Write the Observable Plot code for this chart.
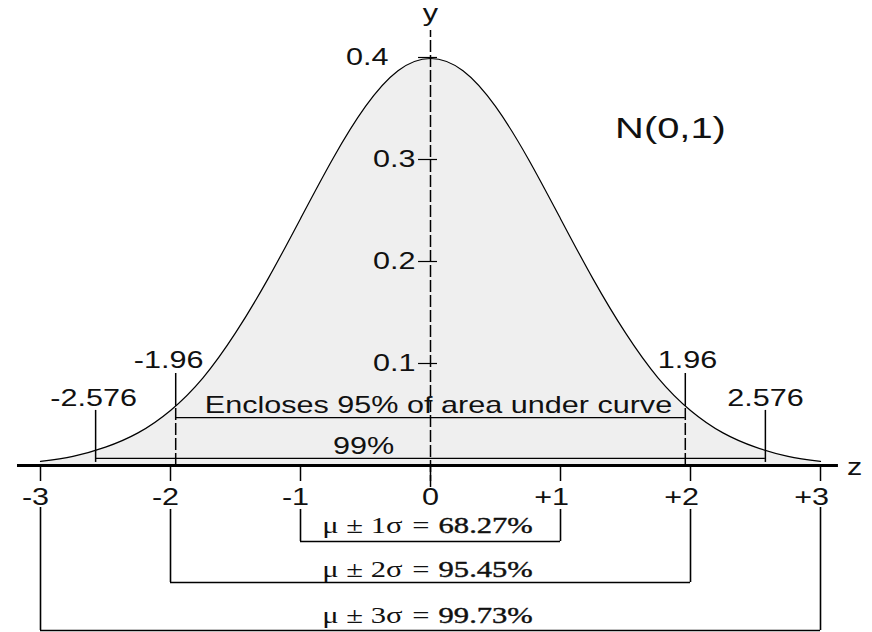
<!DOCTYPE html>
<html>
<head>
<meta charset="utf-8">
<script src="https://cdn.jsdelivr.net/npm/d3@7"></script>
<script src="https://cdn.jsdelivr.net/npm/@observablehq/plot@0.6"></script>
<style>
  html, body { margin: 0; padding: 0; background: #fff; }
  svg { display: block; }
</style>
</head>
<body>
<div id="chart"></div>
<script>
// Standard normal curve
const zValues = [-3, -2.75, -2.5, -2.25, -2, -1.75, -1.5, -1.25, -1, -0.75, -0.5, -0.25, 0,
                 0.25, 0.5, 0.75, 1, 1.25, 1.5, 1.75, 2, 2.25, 2.5, 2.75, 3];
const density = [0.004, 0.009, 0.018, 0.032, 0.054, 0.086, 0.130, 0.183, 0.242, 0.301, 0.352, 0.387, 0.399,
                 0.387, 0.352, 0.301, 0.242, 0.183, 0.130, 0.086, 0.054, 0.032, 0.018, 0.009, 0.004];

const xTicks = [-3, -2, -1, 0, 1, 2, 3];
const xTickLabels = ["-3", "-2", "-1", "0", "+1", "+2", "+3"];
const yTicks = [0.1, 0.2, 0.3, 0.4];

const crit95 = [-1.96, 1.96];
const crit95Labels = ["-1.96", "1.96"];
const crit99 = [-2.576, 2.576];
const crit99Labels = ["-2.576", "2.576"];
const densityAt196 = 0.058;
const level95 = 0.047;
const level99 = 0.0069;

const sigmaK = [1, 2, 3];
const sigmaLeft = ["\u03bc \u00b1 1\u03c3", "\u03bc \u00b1 2\u03c3", "\u03bc \u00b1 3\u03c3"];
const sigmaEq = ["=", "=", "="];
const sigmaPct = ["68.27%", "95.45%", "99.73%"];

const curve = zValues.map((z, i) => ({z, p: density[i]}));

const sans = "'Liberation Sans', Arial, Helvetica, sans-serif";
const serif = "'Liberation Serif', 'Times New Roman', serif";

// bracket geometry (in data units)
const bracketTop = [-0.0431, -0.0431, -0.0412];
const bracketBottom = [-0.0745, -0.1147, -0.1618];
const bracketText = [-0.0594, -0.1025, -0.1467];

const brackets = sigmaK.map((k, i) => ({k, top: bracketTop[i], bottom: bracketBottom[i], ty: bracketText[i],
  left: sigmaLeft[i], eq: sigmaEq[i], pct: sigmaPct[i]}));

const plot = Plot.plot({
  width: 872,
  height: 632,
  margin: 0,
  x: {domain: [-430 / 130, 442 / 130], axis: null},
  y: {domain: [-167 / 1020, 465 / 1020], axis: null},
  style: {background: "#fff", fontFamily: sans},
  marks: [
    Plot.areaY(curve, {x: "z", y: "p", fill: "#efefef", curve: "natural"}),
    // 99% and 95% horizontal lines
    Plot.ruleY([level99], {x1: crit99[0], x2: crit99[1], stroke: "#000", strokeWidth: 1.2}),
    Plot.ruleY([level95], {x1: crit95[0], x2: crit95[1], stroke: "#000", strokeWidth: 1.2}),
    // critical value lines
    Plot.ruleX(crit95, {y1: densityAt196, y2: 0.0902, stroke: "#000", strokeWidth: 1.5}),
    Plot.ruleX(crit95, {y1: 0, y2: densityAt196, stroke: "#000", strokeWidth: 1.5, strokeDasharray: "12,3"}),
    Plot.ruleX(crit99, {y1: 0.003, y2: 0.054, stroke: "#000", strokeWidth: 1.5}),
    // y axis (dashed)
    Plot.ruleX([0], {y1: -0.0216, y2: 0.4265, stroke: "#000", strokeWidth: 1.5, strokeDasharray: "12,3"}),
    Plot.ruleY(yTicks, {x1: -0.092, x2: 0.054, stroke: "#000", strokeWidth: 1.2}),
    Plot.text(yTicks, {x: d => d === 0.4 ? -0.323 : -0.115, y: d => d, text: d => d.toFixed(1),
      textAnchor: "end", fontSize: 23, fill: "#111"}),
    // density curve
    Plot.line(curve, {x: "z", y: "p", curve: "natural", stroke: "#000", strokeWidth: 1.2}),
    // x axis
    Plot.ruleY([0], {x1: -3.177, x2: 3.138, stroke: "#000", strokeWidth: 3}),
    Plot.ruleX(xTicks, {y1: 0, y2: -0.0157, stroke: "#000", strokeWidth: 1.5}),
    Plot.text(xTicks, {x: d => d + 0.066, y: -0.0314, text: (d, i) => xTickLabels[i],
      textAnchor: "end", fontSize: 23, fill: "#111"}),
    // axis names
    Plot.text(["y"], {x: 0, y: 0.4435, text: d => d, fontSize: 23, fill: "#111"}),
    Plot.text(["z"], {x: 3.262, y: -0.0016, text: d => d, fontSize: 23, fill: "#111"}),
    Plot.text(["N(0,1)"], {x: 1.846, y: 0.3304, text: d => d, fontSize: 30, fill: "#111"}),
    // critical labels
    Plot.text(crit95, {x: d => d < 0 ? -2.015 : 1.977, y: 0.1025, text: (d, i) => crit95Labels[i], fontSize: 23, fill: "#111"}),
    Plot.text(crit99, {x: d => d < 0 ? -2.592 : 2.577, y: 0.0652, text: (d, i) => crit99Labels[i], fontSize: 23, fill: "#111"}),
    Plot.text(["Encloses 95% of area under curve"], {x: 0.0615, y: 0.0588, text: d => d, fontSize: 23, fill: "#111"}),
    Plot.text(["99%"], {x: -0.515, y: 0.0186, text: d => d, fontSize: 23, fill: "#111"}),
    // sigma brackets
    Plot.ruleX(brackets, {x: d => -d.k, y1: "top", y2: "bottom", stroke: "#000", strokeWidth: 1.6}),
    Plot.ruleX(brackets, {x: d => d.k, y1: "top", y2: "bottom", stroke: "#000", strokeWidth: 1.6}),
    Plot.ruleY(brackets, {y: "bottom", x1: d => -d.k, x2: d => d.k, stroke: "#000", strokeWidth: 1.6}),
    Plot.text(brackets, {x: -0.215, y: "ty", text: "left", textAnchor: "end", fontFamily: serif, fontSize: 23, fill: "#111"}),
    Plot.text(brackets, {x: -0.14, y: "ty", text: "eq", textAnchor: "start", fontFamily: serif, fontSize: 23, fill: "#111"}),
    Plot.text(brackets, {x: 0.062, y: "ty", text: "pct", textAnchor: "start", fontFamily: serif, fontSize: 23,
      fill: "#111", stroke: "#111", strokeWidth: 0.4})
  ]
});

// the reference is horizontally stretched: widen the glyphs accordingly
const sx = 1.33;
plot.querySelectorAll("text").forEach(t => {
  const tr = t.getAttribute("transform");
  if (tr) {
    t.setAttribute("transform", tr + ` scale(${sx},1)`);
  } else {
    const x = +(t.getAttribute("x") || 0), y = +(t.getAttribute("y") || 0);
    t.setAttribute("x", 0); t.setAttribute("y", 0);
    t.setAttribute("transform", `translate(${x},${y}) scale(${sx},1)`);
  }
});

document.getElementById("chart").appendChild(plot);
</script>
</body>
</html>
